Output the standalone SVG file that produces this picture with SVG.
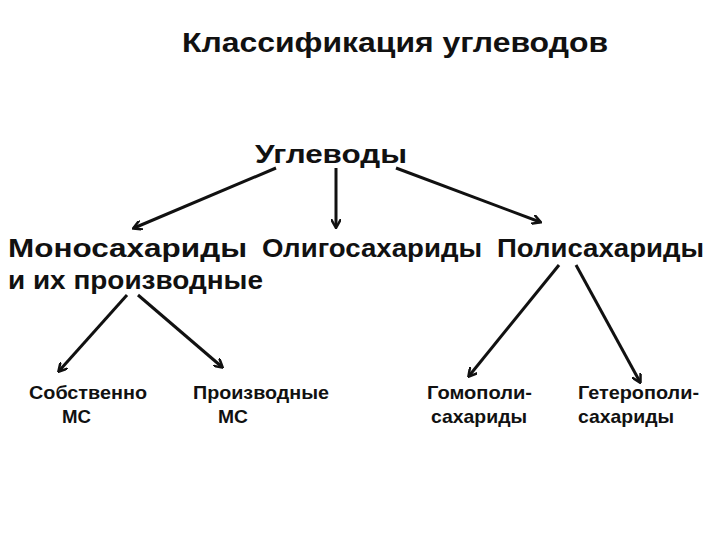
<svg xmlns="http://www.w3.org/2000/svg" width="720" height="540" viewBox="0 0 720 540">
<defs>
<style>
text{font-family:"Liberation Sans",Arial,sans-serif;font-weight:bold;fill:#111}
.t{font-size:28px}
.r{font-size:26px}
.m{font-size:25px}
.s{font-size:19px}
.c{stroke:#111;stroke-width:3;fill:none;marker-end:url(#ah)}
</style>
<marker id="ah" markerWidth="10" markerHeight="10" refX="8" refY="5" orient="auto" markerUnits="userSpaceOnUse">
<path d="M0,0 L9,5 L0,10" fill="none" stroke="#111" stroke-width="2.5"/>
</marker>
</defs>
<rect width="720" height="540" fill="#fff"/>
<g id="title"><text class="t" x="182" y="52" textLength="426" lengthAdjust="spacingAndGlyphs">Классификация углеводов</text></g>
<g id="root"><text class="r" x="255" y="163" textLength="152" lengthAdjust="spacingAndGlyphs">Углеводы</text></g>
<g id="mono"><text class="m" x="8" y="257" textLength="239" lengthAdjust="spacingAndGlyphs">Моносахариды</text><text class="m" x="8" y="289" textLength="255" lengthAdjust="spacingAndGlyphs">и их производные</text></g>
<g id="oligo"><text class="m" x="262" y="257" textLength="220" lengthAdjust="spacingAndGlyphs">Олигосахариды</text></g>
<g id="poly"><text class="m" x="497" y="257" textLength="207" lengthAdjust="spacingAndGlyphs">Полисахариды</text></g>
<g id="own"><text class="s" x="29" y="399" textLength="118" lengthAdjust="spacingAndGlyphs">Собственно</text><text class="s" x="62" y="423" textLength="29" lengthAdjust="spacingAndGlyphs">МС</text></g>
<g id="deriv"><text class="s" x="193" y="399" textLength="136" lengthAdjust="spacingAndGlyphs">Производные</text><text class="s" x="218" y="423" textLength="30" lengthAdjust="spacingAndGlyphs">МС</text></g>
<g id="homo"><text class="s" x="427" y="399" textLength="105" lengthAdjust="spacingAndGlyphs">Гомополи-</text><text class="s" x="431" y="423" textLength="96" lengthAdjust="spacingAndGlyphs">сахариды</text></g>
<g id="hetero"><text class="s" x="578" y="399" textLength="121" lengthAdjust="spacingAndGlyphs">Гетерополи-</text><text class="s" x="578" y="423" textLength="96" lengthAdjust="spacingAndGlyphs">сахариды</text></g>
<g id="connectors">
<line class="c" x1="276" y1="168" x2="134" y2="228"/>
<line class="c" x1="336" y1="168" x2="336" y2="227"/>
<line class="c" x1="396" y1="168" x2="540" y2="222"/>
<line class="c" x1="127" y1="295" x2="59" y2="371"/>
<line class="c" x1="138" y1="295" x2="222" y2="367"/>
<line class="c" x1="559" y1="265" x2="469" y2="376"/>
<line class="c" x1="576" y1="265" x2="640" y2="382"/>
</g>
</svg>
